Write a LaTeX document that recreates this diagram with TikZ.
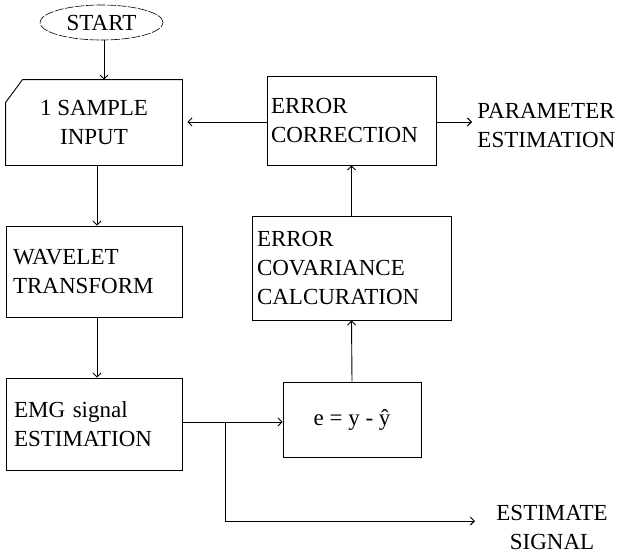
\documentclass[tikz,border=0pt]{standalone}
\usepackage{fontspec}
\setmainfont{Liberation Serif}
\usetikzlibrary{arrows.meta,shapes.geometric}

\begin{document}
\begin{tikzpicture}[x=1pt,y=-1pt,
  font=\fontsize{23}{29}\selectfont,
  line width=0.9pt,
  flow/.style={-{Straight Barb[length=4pt,width=8pt]}},
  blk/.style={draw, rectangle, inner xsep=0pt, inner ysep=0pt},
  txt/.style={inner sep=0pt}]

  \useasboundingbox (0,0) rectangle (623,555);

  % terminator
  \node[ellipse, draw, line width=0.6pt, dash pattern=on 9pt off 1.5pt,
        minimum width=123pt, minimum height=35pt, inner sep=0pt]
        (start) at (101.5,22.5) {START};

  % input block with a cut top-left corner
  \node[txt, minimum width=176pt, minimum height=85pt, align=center]
        (inp) at (94,122.5) {1 SAMPLE\\INPUT};
  \draw ([yshift=-23pt]inp.north west) -- ([xshift=17pt]inp.north west)
        -- (inp.north east) -- (inp.south east) -- (inp.south west) -- cycle;

  % left column
  \node[blk, minimum width=176pt, minimum height=91pt,
        text width=162pt, align=left, inner xsep=7pt]
        (wav) at (94,271.5) {WAVELET\\TRANSFORM};
  \node[blk, minimum width=176pt, minimum height=92pt,
        text width=160pt, align=left, inner xsep=8pt]
        (emg) at (94,424) {EMG signal\\ESTIMATION};

  % right column
  \node[blk, minimum width=169pt, minimum height=89pt,
        text width=161pt, align=left, inner xsep=4pt]
        (cor) at (351.5,120.5) {ERROR\\CORRECTION};
  \node[blk, minimum width=199pt, minimum height=104pt,
        text width=189pt, align=left, inner xsep=5pt]
        (cov) at (351.5,268) {ERROR\\COVARIANCE\\CALCURATION};
  \node[blk, minimum width=138pt, minimum height=75pt]
        (err) at (352,419.5) {e = y - ŷ};

  % outputs
  \node[txt, anchor=west, align=left] (par) at (477,125.5)
        {PARAMETER\\ESTIMATION};
  \node[txt, align=center] (est) at (552,527) {ESTIMATE\\SIGNAL};

  \coordinate (br) at (225,422);
  \coordinate (estin) at (475,521);

  % connectors
  \draw[flow] (start.south -| 104,0) -- (inp.north -| 104,0);
  \draw[flow] (inp.south -| 97,0) -- (wav.north -| 97,0);
  \draw[flow] (wav.south -| 97,0) -- (emg.north -| 97,0);
  \draw[flow] (emg.east |- br) -- (err.west |- br);
  \draw[flow] (br) |- (estin);
  \draw[flow] (err.north) -- (cov.south);
  \draw[flow] (cov.north) -- (cor.south);
  \draw[flow, shorten >=5pt] (cor.west |- 0,122) -- (inp.east |- 0,122);
  \draw[flow] (cor.east |- 0,122) -- (472,122);
\end{tikzpicture}
\end{document}
